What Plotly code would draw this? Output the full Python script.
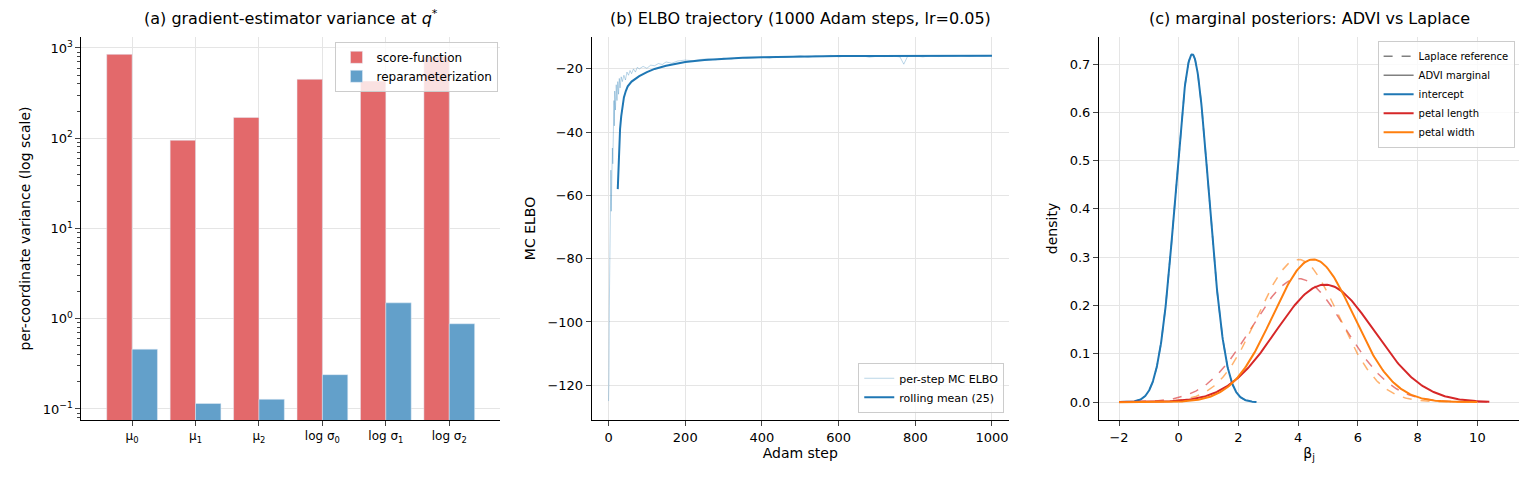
import numpy as np
import plotly.graph_objects as go

# ---- panel (a) data
coords = ["μ<sub>0</sub>", "μ<sub>1</sub>", "μ<sub>2</sub>", "log σ<sub>0</sub>", "log σ<sub>1</sub>", "log σ<sub>2</sub>"]
score_var = [850, 95, 170, 450, 430, 800]
reparam_var = [0.46, 0.115, 0.128, 0.24, 1.5, 0.88]

# ---- panel (b) data
step_raw = [0, 1, 2, 3, 4, 5, 6, 7, 8, 9, 10, 11, 12, 13, 14, 15, 16, 18, 20, 22, 24, 26, 28, 30, 33, 36, 40, 44, 48, 52, 56, 60, 65, 70, 75, 80, 90, 100, 110, 120, 130, 140, 150, 165, 180, 200, 220, 240, 260, 280, 300, 320, 340, 360, 380, 400, 420, 440, 460, 480, 500, 520, 540, 560, 580, 600, 620, 640, 660, 680, 700, 720, 740, 760, 770, 780, 800, 820, 840, 860, 880, 900, 920, 940, 960, 980, 1000]
elbo_raw = [-125, -118, -95, -80, -76, -60, -52, -65, -47, -55, -45, -50, -33, -42, -30, -38, -27, -33, -25, -30, -24, -28, -23, -26, -22.5, -24, -22, -23.5, -21, -22, -20.5, -21.5, -20, -21, -19.5, -20, -19.2, -19.8, -18.8, -19, -18.3, -18.6, -17.8, -18.2, -17.5, -17.2, -17.4, -17, -16.8, -17.1, -16.6, -16.9, -16.4, -16.7, -16.5, -16.3, -16.6, -16.1, -16.4, -16.0, -15.8, -16.3, -15.9, -16.1, -15.7, -16.2, -15.9, -16.0, -15.8, -16.3, -16.0, -16.1, -15.9, -16.2, -18.5, -16.0, -15.9, -16.2, -15.8, -16.1, -15.9, -16.0, -15.8, -16.1, -15.9, -16.0, -15.8]
step_roll = [24, 26, 28, 30, 33, 36, 40, 45, 50, 60, 70, 80, 100, 120, 150, 180, 200, 250, 300, 350, 400, 450, 500, 600, 700, 800, 900, 1000]
elbo_roll = [-58, -50, -44, -39, -35, -31.5, -29, -27, -25.5, -24, -23, -22.3, -21, -20, -19, -18.2, -17.8, -17.2, -16.8, -16.5, -16.3, -16.2, -16.0, -15.9, -15.9, -15.9, -15.9, -15.8]

# ---- panel (c) data: Gaussian marginals (mean, sd)
params = ["intercept", "petal length", "petal width"]
advi_mean = [0.45, 4.9, 4.5]
advi_sd = [0.554, 1.64, 1.35]
laplace_mean = [0.45, 4.0, 4.0]
laplace_sd = [0.554, 1.56, 1.35]
x_lo = [-2.0, -2.0, -2.0]
x_hi = [2.6, 10.4, 10.0]
colors = ["#1f77b4", "#d62728", "#ff7f0e"]
light = ["rgba(31,119,180,0.6)", "rgba(214,39,40,0.6)", "rgba(255,127,14,0.6)"]

fig = go.Figure()
font = "DejaVu Sans"

fig.add_trace(go.Bar(x=coords, y=score_var, name="score-function", marker_color="#e3696b",
                     xaxis="x", yaxis="y", legend="legend", width=0.4, offset=-0.4))
fig.add_trace(go.Bar(x=coords, y=reparam_var, name="reparameterization", marker_color="#63a0ca",
                     xaxis="x", yaxis="y", legend="legend", width=0.4, offset=0))

fig.add_trace(go.Scatter(x=step_raw, y=elbo_raw, mode="lines", name="per-step MC ELBO",
                         line=dict(color="rgba(31,119,180,0.3)", width=1), xaxis="x2", yaxis="y2", legend="legend2"))
fig.add_trace(go.Scatter(x=step_roll, y=elbo_roll, mode="lines", name="rolling mean (25)",
                         line=dict(color="#1f77b4", width=2), xaxis="x2", yaxis="y2", legend="legend2"))

fig.add_trace(go.Scatter(x=[None], y=[None], mode="lines", name="Laplace reference",
                         line=dict(color="gray", dash="dash", width=1.5), xaxis="x3", yaxis="y3", legend="legend3"))
fig.add_trace(go.Scatter(x=[None], y=[None], mode="lines", name="ADVI marginal",
                         line=dict(color="gray", width=1.5), xaxis="x3", yaxis="y3", legend="legend3"))
for i, p in enumerate(params):
    xs = np.linspace(x_lo[i], x_hi[i], 300)
    m, s = laplace_mean[i], laplace_sd[i]
    fig.add_trace(go.Scatter(x=xs, y=np.exp(-0.5*((xs-m)/s)**2)/(s*np.sqrt(2*np.pi)), mode="lines",
                             line=dict(color=light[i], dash="dash", width=1.5), showlegend=False,
                             xaxis="x3", yaxis="y3"))
for i, p in enumerate(params):
    xs = np.linspace(x_lo[i], x_hi[i], 300)
    m, s = advi_mean[i], advi_sd[i]
    fig.add_trace(go.Scatter(x=xs, y=np.exp(-0.5*((xs-m)/s)**2)/(s*np.sqrt(2*np.pi)), mode="lines", name=p,
                             line=dict(color=colors[i], width=2), xaxis="x3", yaxis="y3", legend="legend3"))

minor_vals = [k * 10.0**e for e in range(-2, 4) for k in range(2, 10)]
ax = dict(showline=True, linecolor="black", linewidth=1, ticks="outside", mirror=False,
          gridcolor="#e5e5e5", zeroline=False, tickfont=dict(size=13, color="black"))
yb, yt = 0.147, 0.94
dx = -0.004
fig.update_layout(
    width=1528, height=483, margin=dict(l=0, r=0, t=0, b=0),
    plot_bgcolor="white", paper_bgcolor="white", font=dict(family=font, color="black"),
    barmode="overlay",
    xaxis=dict(ax, domain=[0.052+dx, 0.326+dx], range=[-0.8, 5.8], tickfont=dict(size=12)),
    yaxis=dict(ax, domain=[yb, yt], type="log", range=[-1.122, 3.122],
               tickvals=[0.1, 1, 10, 100, 1000],
               ticktext=["10<sup>−1</sup>", "10<sup>0</sup>", "10<sup>1</sup>", "10<sup>2</sup>", "10<sup>3</sup>"],
               minor=dict(ticks="outside", ticklen=3, showgrid=False, tickvals=minor_vals),
               title=dict(text="per-coordinate variance (log scale)", font=dict(size=14), standoff=8)),
    xaxis2=dict(ax, domain=[0.386+dx, 0.659+dx], range=[-44, 1044], tickvals=[0, 200, 400, 600, 800, 1000],
                title=dict(text="Adam step", font=dict(size=14), standoff=4), anchor="y2"),
    yaxis2=dict(ax, domain=[yb, yt], range=[-131, -9.9], tickvals=[-120, -100, -80, -60, -40, -20],
                ticktext=["−120", "−100", "−80", "−60", "−40", "−20"], anchor="x2",
                title=dict(text="MC ELBO", font=dict(size=14), standoff=8)),
    xaxis3=dict(ax, domain=[0.718+dx, 0.993+dx], range=[-2.67, 11.4], tickvals=[-2, 0, 2, 4, 6, 8, 10],
                ticktext=["−2", "0", "2", "4", "6", "8", "10"], anchor="y3",
                title=dict(text="β<sub>j</sub>", font=dict(size=14), standoff=4)),
    yaxis3=dict(ax, domain=[yb, yt], range=[-0.037, 0.756], tickvals=[0, 0.1, 0.2, 0.3, 0.4, 0.5, 0.6, 0.7],
                tickformat=".1f", anchor="x3", title=dict(text="density", font=dict(size=14), standoff=8)),
    legend=dict(x=0.321, y=0.93, xanchor="right", yanchor="top", bgcolor="rgba(255,255,255,0.8)",
                bordercolor="#cccccc", borderwidth=1, font=dict(size=12)),
    legend2=dict(x=0.652, y=0.162, xanchor="right", yanchor="bottom", bgcolor="rgba(255,255,255,0.8)",
                 bordercolor="#cccccc", borderwidth=1, font=dict(size=11)),
    legend3=dict(x=0.986, y=0.932, xanchor="right", yanchor="top", bgcolor="rgba(255,255,255,0.8)",
                 bordercolor="#cccccc", borderwidth=1, font=dict(size=10), tracegroupgap=0),
    annotations=[
        dict(text="(a) gradient-estimator variance at <i>q</i><sup>*</sup>", x=0.185, y=0.955, xref="paper", yref="paper",
             xanchor="center", yanchor="bottom", showarrow=False, font=dict(size=16)),
        dict(text="(b) ELBO trajectory (1000 Adam steps, lr=0.05)", x=0.5185, y=0.955, xref="paper", yref="paper",
             xanchor="center", yanchor="bottom", showarrow=False, font=dict(size=16)),
        dict(text="(c) marginal posteriors: ADVI vs Laplace", x=0.8515, y=0.955, xref="paper", yref="paper",
             xanchor="center", yanchor="bottom", showarrow=False, font=dict(size=16)),
    ],
)
fig.write_html("out.html")
